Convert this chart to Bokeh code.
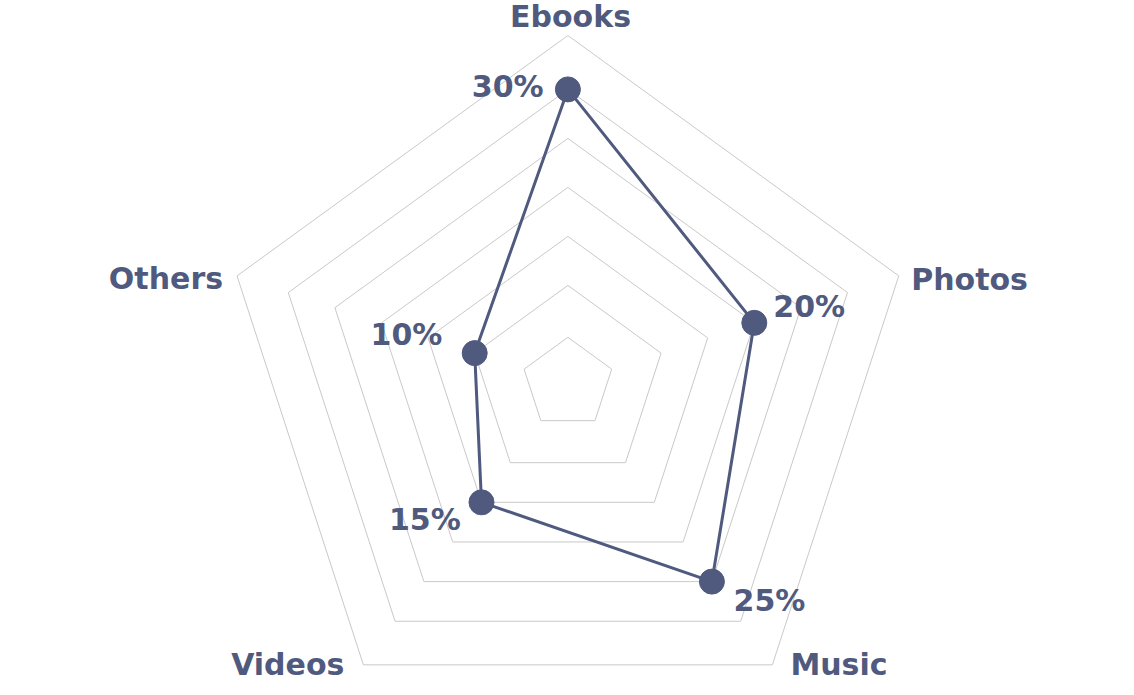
import math
from bokeh.plotting import figure
from bokeh.models import Range1d, ColumnDataSource
from bokeh.embed import file_html
from bokeh.resources import INLINE
from bokeh.core.properties import value

# ---- data ----
categories = ["Ebooks", "Photos", "Music", "Videos", "Others"]
values = [30, 20, 25, 15, 10]
value_labels = ["30%", "20%", "25%", "15%", "10%"]
grid_levels = [4.7, 10, 15, 20, 25, 30, 35.5]

# ---- layout / style ----
W, H = 1134, 695
CX, CY = 567.4, 382.9          # chart centre in screen pixels
PX_PER_UNIT = 9.8              # radial pixels per percent
COLOR = "#4f5a7e"
GRID_COLOR = "#c9c9c9"
FONT = "DejaVu Sans"
FONT_SIZE = "30px"
BASELINE_FIX = -13             # renderer baseline correction (screen px)

# label offsets (screen px: +x right, +y down) from outer vertex / from point
cat_offsets = [(2.6, -6.3), (12.4, 16.3), (18, 13), (-19, 12.3), (-14, 15.6)]
cat_align = ["center", "left", "left", "right", "right"]
val_offsets = [(-24.3, 10), (19, -3.4), (21.6, 31.7), (-20.7, 30), (-32.3, -5.6)]
val_align = ["right", "left", "left", "right", "right"]

n = len(categories)
angles = [math.pi / 2 - i * 2 * math.pi / n for i in range(n)]

p = figure(width=W, height=H,
           x_range=Range1d(-CX, W - CX), y_range=Range1d(-(H - CY), CY),
           output_backend="svg", toolbar_location=None, min_border=0,
           x_axis_location=None, y_axis_location=None)
p.grid.visible = False
p.outline_line_color = None
p.background_fill_color = "white"
p.border_fill_color = "white"

# grid pentagons
gxs, gys = [], []
for lv in grid_levels:
    r = lv * PX_PER_UNIT
    xs = [r * math.cos(a) for a in angles] + [r * math.cos(angles[0])]
    ys = [r * math.sin(a) for a in angles] + [r * math.sin(angles[0])]
    gxs.append(xs)
    gys.append(ys)
p.multi_line(gxs, gys, line_color=GRID_COLOR, line_width=1)

# series
px = [v * PX_PER_UNIT * math.cos(a) for v, a in zip(values, angles)]
py = [v * PX_PER_UNIT * math.sin(a) for v, a in zip(values, angles)]
p.line(px + [px[0]], py + [py[0]], line_color=COLOR, line_width=3)
p.scatter(px, py, marker="circle", size=25, fill_color=COLOR, line_color=COLOR)

# category labels
R_out = grid_levels[-1] * PX_PER_UNIT
cx_ = [R_out * math.cos(a) + o[0] for a, o in zip(angles, cat_offsets)]
cy_ = [R_out * math.sin(a) - (o[1] + BASELINE_FIX) for a, o in zip(angles, cat_offsets)]
src_c = ColumnDataSource(dict(x=cx_, y=cy_, t=categories, al=cat_align))
p.text(x="x", y="y", text="t", text_align="al", text_baseline="alphabetic",
       text_font=value(FONT), text_font_size=FONT_SIZE, text_font_style="bold",
       text_color=COLOR, source=src_c)

# value labels
vx = [x + o[0] for x, o in zip(px, val_offsets)]
vy = [y - (o[1] + BASELINE_FIX) for y, o in zip(py, val_offsets)]
src_v = ColumnDataSource(dict(x=vx, y=vy, t=value_labels, al=val_align))
p.text(x="x", y="y", text="t", text_align="al", text_baseline="alphabetic",
       text_font=value(FONT), text_font_size=FONT_SIZE, text_font_style="bold",
       text_color=COLOR, source=src_v)

open("out.html", "w").write(file_html(p, INLINE))
